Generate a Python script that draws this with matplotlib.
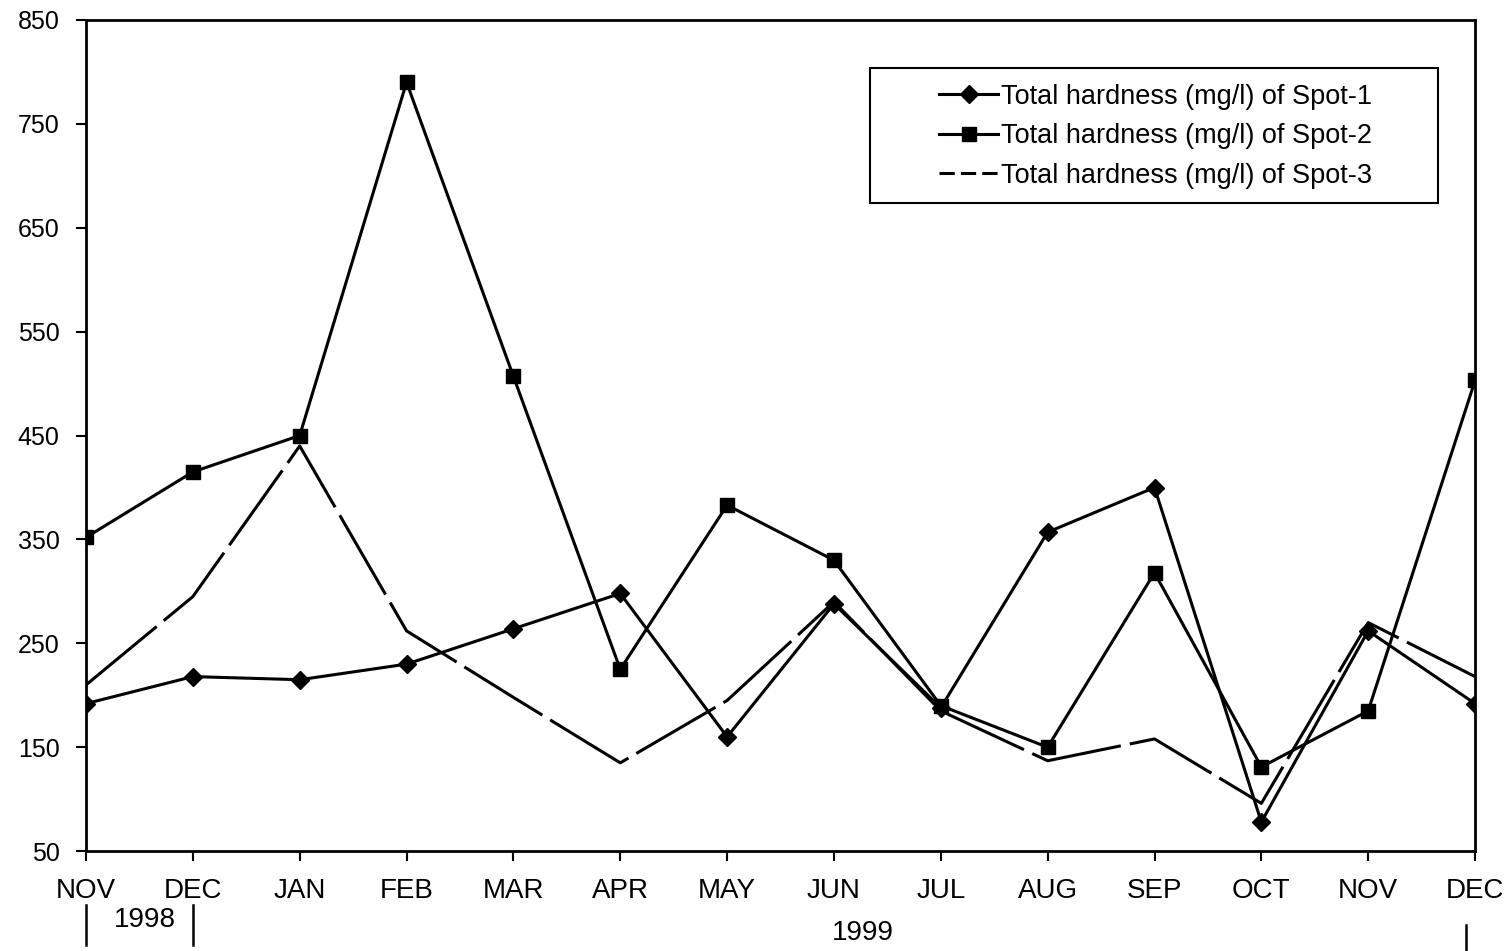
import matplotlib
matplotlib.use("Agg")
import matplotlib.pyplot as plt
from matplotlib.lines import Line2D
from matplotlib.patches import Rectangle

plt.rcParams['font.family'] = ['Liberation Sans', 'DejaVu Sans']

months = ["NOV", "DEC", "JAN", "FEB", "MAR", "APR", "MAY", "JUN",
          "JUL", "AUG", "SEP", "OCT", "NOV", "DEC"]
spot1 = [192, 218, 215, 230, 264, 298, 160, 288, 188, 357, 400, 78, 262, 192]
spot2 = [352, 415, 450, 790, 507, 225, 383, 330, 190, 150, 318, 131, 185, 503]
spot3 = [210, 295, 440, 262, 198, 135, 195, 290, 185, 137, 158, 96, 270, 218]
yticks = [50, 150, 250, 350, 450, 550, 650, 750, 850]
labels = ["Total hardness (mg/l) of Spot-1",
          "Total hardness (mg/l) of Spot-2",
          "Total hardness (mg/l) of Spot-3"]

fig = plt.figure(figsize=(15.09, 9.51), dpi=100)
ax = fig.add_axes([0.057, 0.105, 0.9205, 0.874])

x = list(range(len(months)))
ax.plot(x, spot1, color='black', lw=2.2, marker='D', markersize=9.5, zorder=3)
ax.plot(x, spot2, color='black', lw=2.2, marker='s', markersize=10.5, zorder=3)
ax.plot(x, spot3, color='black', lw=2.2, dashes=(30, 3), zorder=2)

ax.set_xlim(0, len(months) - 1)
ax.set_ylim(50, 850)
ax.set_yticks(yticks)
ax.set_yticklabels([str(v) for v in yticks], fontsize=18)
ax.set_xticks(x)
ax.set_xticklabels(months, fontsize=20)
ax.tick_params(axis='both', direction='out', length=7, width=1.5, color='black')
ax.tick_params(axis='x', pad=12)
ax.tick_params(axis='y', pad=12)
for s in ax.spines.values():
    s.set_linewidth(2)
    s.set_color('black')

# legend with proxy handles
h1 = Line2D([], [], color='black', lw=2.2, marker='D', markersize=9.5)
h2 = Line2D([], [], color='black', lw=2.2, marker='s', markersize=10.5)
h3 = Line2D([], [], color='black', lw=2.2, dashes=(5, 2))
leg = ax.legend([h1, h2, h3], labels, loc='center', bbox_to_anchor=(0.770, 0.860),
                fontsize=19.5, frameon=False, handlelength=2.2,
                handletextpad=0.1, labelspacing=0.5, borderpad=0, borderaxespad=0)
ax.add_patch(Rectangle((0.5644, 0.780), 0.409, 0.162, transform=ax.transAxes,
                       fill=False, edgecolor='black', lw=1.5, zorder=5))

# Year annotations below the axis
trans = ax.get_xaxis_transform()
for xb, y0, y1 in [(0, -0.065, -0.113), (1.0, -0.065, -0.113), (12.92, -0.089, -0.125)]:
    ax.plot([xb, xb], [y0, y1], transform=trans, color='black', lw=1.8, clip_on=False)
ax.text(0.55, -0.083, "1998", transform=trans, ha='center', va='center', fontsize=20)
ax.text(7.27, -0.099, "1999", transform=trans, ha='center', va='center', fontsize=20)

fig.savefig("out.png", dpi=100, facecolor='white')
